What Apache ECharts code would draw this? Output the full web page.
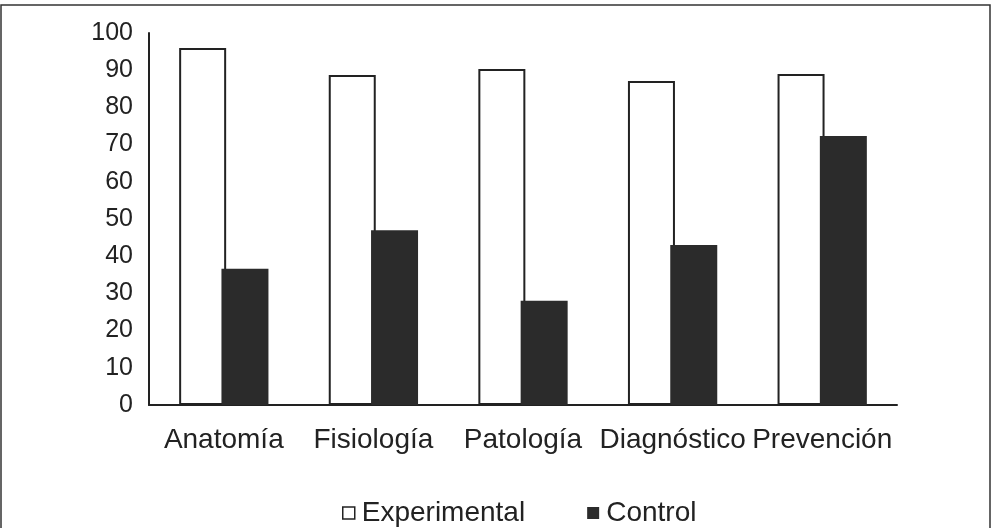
<!DOCTYPE html>
<html><head><meta charset="utf-8">
<script src="https://cdn.jsdelivr.net/npm/echarts@6/dist/echarts.min.js"></script>
<style>html,body{margin:0;padding:0;background:#fff}#c{width:992px;height:528px}</style>
</head><body><div id="c"></div>
<script>
const categories = ['Anatomía','Fisiología','Patología','Diagnóstico','Prevención'];
const experimental = [96, 88.7, 90.3, 87.1, 89];
const control = [36.6, 47, 28, 43, 72.3];
const yTicks = [0,10,20,30,40,50,60,70,80,90,100];

const chart = echarts.init(document.getElementById('c'));
const font = 'Liberation Sans, Arial, sans-serif';
chart.setOption({
  animation:false,
  backgroundColor:'#fff',
  graphic:[{type:'rect',shape:{x:1,y:5,width:989,height:540},style:{fill:'none',stroke:'#333',lineWidth:1.5},silent:true}],
  grid:{left:149,right:95,top:33,bottom:123},
  legend:{top:494,left:337,itemWidth:12,itemHeight:12,itemGap:62,icon:'rect',
    textStyle:{fontFamily:font,fontSize:28,color:'#222',padding:[0,0,0,2]},
    data:[{name:'Experimental',itemStyle:{color:'#fff',borderColor:'#222',borderWidth:1.5}},{name:'Control'}]},
  xAxis:{type:'category',data:categories,
    axisLine:{lineStyle:{color:'#222',width:2}},axisTick:{show:false},
    axisLabel:{fontFamily:font,fontSize:28,color:'#222',margin:21,interval:0}},
  yAxis:{type:'value',min:0,max:100,interval:10,
    axisLine:{show:true,lineStyle:{color:'#222',width:2}},axisTick:{show:false},splitLine:{show:false},
    axisLabel:{fontFamily:font,fontSize:25,color:'#222',margin:16,
      formatter:v=>yTicks.includes(v)?String(v):''}},
  series:[
    {name:'Experimental',type:'bar',data:experimental,barWidth:47,barGap:'-10%',
      itemStyle:{color:'#fff',borderColor:'#222',borderWidth:2}},
    {name:'Control',type:'bar',data:control,barWidth:47,
      itemStyle:{color:'#2b2b2b'}}
  ]
});
</script></body></html>
